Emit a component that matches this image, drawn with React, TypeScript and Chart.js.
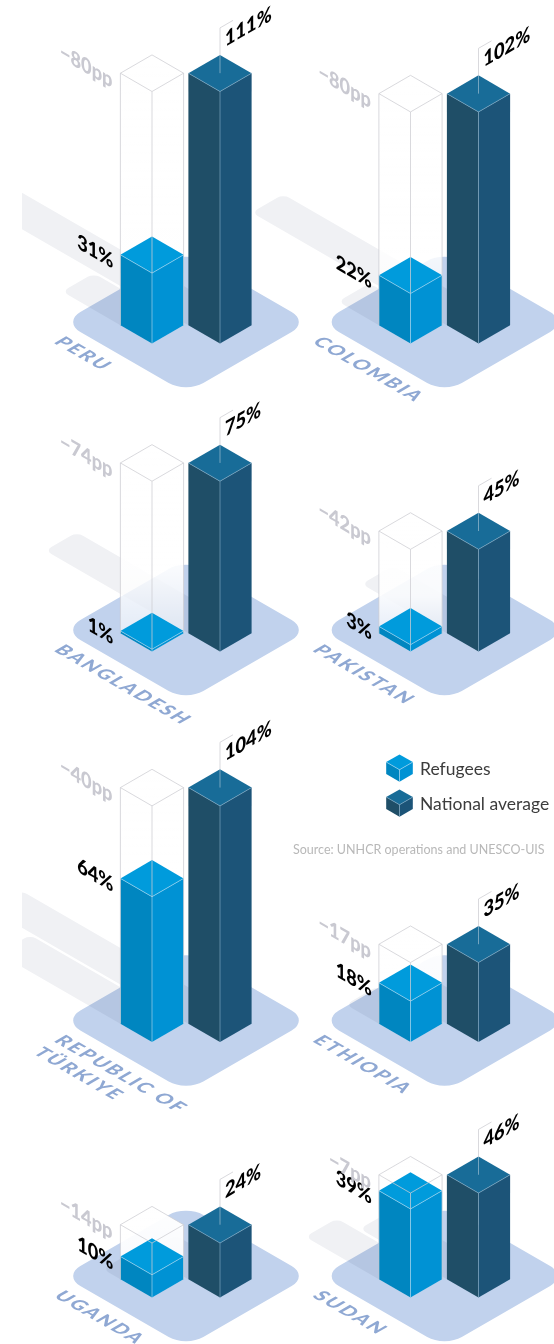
import React, { useEffect, useRef } from "react";
import { Chart, registerables } from "chart.js";
Chart.register(...registerables);

const countries = ["PERU", "COLOMBIA", "BANGLADESH", "PAKISTAN", "REPUBLIC OF|TÜRKIYE", "ETHIOPIA", "UGANDA", "SUDAN"];
const refugees = [31, 22, 1, 3, 64, 18, 10, 39];
const national = [111, 102, 75, 45, 104, 35, 24, 46];
const gaps = [80, 80, 74, 42, 40, 17, 14, 7];
const seriesNames = ["Refugees", "National average"];
const sourceNote = "Source: UNHCR operations and UNESCO-UIS";

// layout constants
const W = 554, H = 1344;
const colX = [186, 444.5];
const rowBase = [343.5, 651.5, 1042, 1297.5];
const HW = 31.6, HH = 18.3, BAR_DX = 34;
const A = 0.866, B = 0.5;
const BLUE = { l: "#0086c0", r: "#0092d4", t: "#009bdc", e: "rgba(170,215,240,.8)" };
const DARK = { l: "#1f4e67", r: "#1c5478", t: "#186c98", e: "rgba(130,170,195,.8)" };
const HEAVY = '900 21px Lato, "Open Sans", sans-serif';

function poly(ctx: any, pts: number[][], fill: any) {
  ctx.beginPath();
  pts.forEach((p, i) => (i ? ctx.lineTo(p[0], p[1]) : ctx.moveTo(p[0], p[1])));
  ctx.closePath();
  ctx.fillStyle = fill;
  ctx.fill();
}
function line(ctx: any, pts: number[][], color: string, w = 0.8) {
  ctx.beginPath();
  pts.forEach((p, i) => (i ? ctx.lineTo(p[0], p[1]) : ctx.moveTo(p[0], p[1])));
  ctx.strokeStyle = color;
  ctx.lineWidth = w;
  ctx.stroke();
}
function prism(ctx: any, x: number, base: number, h: number, c: any, hw = HW, hh = HH) {
  const top = base - h;
  poly(ctx, [[x - hw, base - hh], [x, base], [x, top], [x - hw, top - hh]], c.l);
  poly(ctx, [[x + hw, base - hh], [x, base], [x, top], [x + hw, top - hh]], c.r);
  poly(ctx, [[x, top], [x - hw, top - hh], [x, top - 2 * hh], [x + hw, top - hh]], c.t);
  line(ctx, [[x - hw, top - hh], [x, top], [x + hw, top - hh]], c.e);
  line(ctx, [[x, top], [x, base]], c.e);
}
function skewText(ctx: any, text: string, x: number, y: number, m: number[], font: string, color: string, align: any = "left", spacing = "0px") {
  ctx.save();
  ctx.transform(m[0], m[1], m[2], m[3], x, y);
  ctx.font = font;
  ctx.fillStyle = color;
  ctx.textAlign = align;
  ctx.textBaseline = "alphabetic";
  ctx.letterSpacing = spacing;
  ctx.fillText(text, 0, 0);
  ctx.restore();
}

const isoPlugin = {
  id: "isoPrisms",
  afterDatasetsDraw(chart: any) {
    const ctx = chart.ctx;
    const y = chart.scales.y;
    const hOf = (v: number) => y.getPixelForValue(0) - y.getPixelForValue(v);
    const refVals = chart.data.datasets[0].data;
    const natVals = chart.data.datasets[1].data;
    const side = HW / A;
    const panel = (i: number) => ({ cx: colX[i % 2], base: rowBase[Math.floor(i / 2)] });

    ctx.save();
    // platforms
    countries.forEach((_, i) => {
      const { cx, base } = panel(i);
      ctx.save();
      ctx.transform(A, B, -A, B, cx, base - 21.5);
      ctx.beginPath();
      ctx.roundRect(-71, -71, 142, 142, 20);
      ctx.fillStyle = "#c1d2ed";
      ctx.fill();
      ctx.restore();
    });
    // cast shadows
    ctx.save();
    ctx.beginPath();
    ctx.rect(22, 0, W, H);
    ctx.clip();
    ctx.globalCompositeOperation = "multiply";
    countries.forEach((_, i) => {
      const { cx, base } = panel(i);
      const path = new Path2D();
      [[refVals[i], -BAR_DX], [natVals[i], BAR_DX]].forEach(([v, dx]) => {
        const L = 0.85 * hOf(v) + 30;
        const lu = L / A - side / 2;
        const one = new Path2D();
        one.roundRect(-lu, -side / 2, lu + side / 2, side, 7);
        path.addPath(one, new DOMMatrix([A, B, -A, B, cx + dx, base - HH]));
      });
      ctx.fillStyle = "#f0f1f4";
      ctx.fill(path);
    });
    ctx.restore();

    // prisms
    countries.forEach((_, i) => {
      const { cx, base } = panel(i);
      const bx = cx - BAR_DX, dx = cx + BAR_DX;
      const gh = hOf(natVals[i]);
      const top = base - gh;
      const g = ctx.createLinearGradient(0, top - 2 * HH, 0, base);
      g.addColorStop(0, "rgba(255,255,255,.98)");
      g.addColorStop(0.6, "rgba(255,255,255,.9)");
      g.addColorStop(1, "rgba(255,255,255,.45)");
      poly(ctx, [[bx - HW, base - HH], [bx, base], [bx + HW, base - HH], [bx + HW, top - HH], [bx, top - 2 * HH], [bx - HW, top - HH]], g);

      prism(ctx, bx, base, hOf(refVals[i]), BLUE);
      const gc = "rgba(205,205,210,.95)";
      line(ctx, [[bx - HW, base - HH], [bx - HW, top - HH], [bx, top], [bx + HW, top - HH], [bx, top - 2 * HH], [bx - HW, top - HH]], gc);
      line(ctx, [[bx + HW, top - HH], [bx + HW, base - HH]], gc);
      line(ctx, [[bx, top], [bx, base - hOf(refVals[i])]], gc);

      prism(ctx, dx, base, hOf(natVals[i]), DARK);
      // flag stem
      line(ctx, [[dx, top - HH], [dx, top - 2 * HH]], "rgba(190,210,225,.7)");
      line(ctx, [[dx, top - 2 * HH], [dx, top - 2 * HH - 27], [dx + 13, top - 2 * HH - 34.5]], "rgba(205,205,210,.95)");

      // value labels
      const wallUp = [A, -B, 0, 1];
      const wallDown = [A, B, 0, 1];
      skewText(ctx, natVals[i] + "%", dx + 5, top - 2 * HH - 8, wallUp, HEAVY, "#000");
      const rt = base - hOf(refVals[i]) - HH;
      skewText(ctx, refVals[i] + "%", bx - HW - 7, rt + 14, wallDown, HEAVY, "#000", "right");
      skewText(ctx, "\u2212" + gaps[i] + "pp", bx - HW - 8, top - HH + 15, wallDown, HEAVY, "#c9c9d1", "right");

      // country name on the floor
      const lines = countries[i].split("|");
      lines.forEach((t, k) => {
        skewText(ctx, t, cx - 133 - 20.8 * k, base - 1 + 12 * k, [A, B, -A, B], '900 19px Lato, "Open Sans", sans-serif', "#8fa8d3", "left", "2.2px");
      });
    });

    // legend
    const colors = [BLUE, DARK];
    const legendY = [781.7, 816.7];
    seriesNames.forEach((s, i) => {
      prism(ctx, 399.5, legendY[i], 12, colors[i], 13.3, 7.6);
      ctx.font = '17.5px Lato, "Open Sans", sans-serif';
      ctx.fillStyle = "#3c3c3c";
      ctx.textAlign = "left";
      ctx.fillText(s, 420, legendY[i] - 6.5);
    });
    ctx.font = '12.5px Lato, "Open Sans", sans-serif';
    ctx.fillStyle = "#b8b8b8";
    ctx.fillText(sourceNote, 293, 854);
    ctx.restore();
  },
};

export default function App() {
  const ref = useRef<HTMLCanvasElement>(null);
  useEffect(() => {
    const chart = new Chart(ref.current!, {
      type: "bar",
      data: {
        labels: countries,
        datasets: [
          { label: seriesNames[0], data: refugees, backgroundColor: "transparent" },
          { label: seriesNames[1], data: national, backgroundColor: "transparent" },
        ],
      },
      options: {
        responsive: false,
        animation: false,
        devicePixelRatio: 1,
        layout: { padding: 0 },
        plugins: { legend: { display: false }, title: { display: false }, tooltip: { enabled: false } },
        scales: {
          x: { display: false },
          y: { display: false, min: 0, max: 592 },
        },
      },
      plugins: [isoPlugin],
    } as any);
    return () => chart.destroy();
  }, []);
  return <canvas ref={ref} width={W} height={H} style={{ position: "absolute", left: 0, top: 0, display: "block" }} />;
}
